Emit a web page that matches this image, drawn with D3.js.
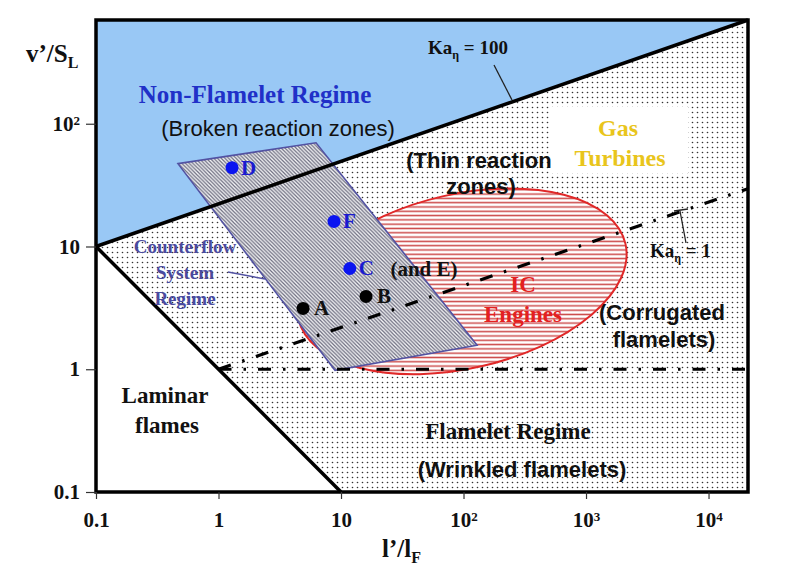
<!DOCTYPE html>
<html>
<head>
<meta charset="utf-8">
<script src="https://cdn.jsdelivr.net/npm/d3@7"></script>
<style>
  html, body { margin: 0; padding: 0; background: #fff; }
  .serif { font-family: "Liberation Serif", "Times New Roman", serif; font-weight: bold; }
  .sans { font-family: "Liberation Sans", Arial, sans-serif; }
</style>
</head>
<body>
<div class="regime-chart"></div>
<script>
// Axis ranges and ticks (log-log)
const xDomain = [0.1, 2.1e4];
const yDomain = [0.1, 700];
const xTicks = [0.1, 1, 10, 100, 1000, 10000];
const xTickLabels = ['0.1', '1', '10', '10^2', '10^3', '10^4'];
const yTicks = [0.1, 1, 10, 100];
const yTickLabels = ['0.1', '1', '10', '10^2'];

// Regime boundaries [l'/lF, v'/SL]
const reOneLine = [[0.1, 10], [10, 0.1]];
const ka100Line = [[0.1, 10], [2.1e4, 700]];
const ka1Line = [[1, 1], [2.1e4, 29.6]];
const unityLine = [[1, 1], [2.1e4, 1]];

// Counterflow system regime (parallelogram corners)
const counterflowCorners = [[0.467, 47.3], [6.25, 70], [129, 1.57], [8.93, 0.98]];

// IC engines ellipse: centre, semi-axes in decades, tilt in degrees
const icCenter = [97, 5.2];
const icSemiAxes = [1.37, 0.71];
const icTilt = 12.9;

// Experimental points
const pointNames = ['D', 'F', 'C', 'B', 'A'];
const pointX = [1.29, 8.77, 11.8, 16.0, 4.9];
const pointY = [43.9, 16.0, 6.62, 3.92, 3.13];
const pointGroup = ['blue', 'blue', 'blue', 'black', 'black'];

const W = 800, H = 583;
const plot = { left: 96, right: 748, top: 20, bottom: 492 };

const svg = d3.select('.regime-chart').append('svg')
  .attr('width', W).attr('height', H);

const x = d3.scaleLog().domain(xDomain).range([plot.left, plot.right]);
const y = d3.scaleLog().domain(yDomain).range([plot.bottom, plot.top]);
const line = d3.line().x(d => x(d[0])).y(d => y(d[1]));

// patterns
const defs = svg.append('defs');
const dots = defs.append('pattern').attr('id', 'dots')
  .attr('width', 5).attr('height', 5).attr('patternUnits', 'userSpaceOnUse');
dots.append('rect').attr('width', 5).attr('height', 5).attr('fill', '#fff');
dots.append('circle').attr('cx', 2.5).attr('cy', 2.5).attr('r', 0.8).attr('fill', '#333');

// the ellipse is rotated, so turn its hatch back to horizontal
const redHatch = defs.append('pattern').attr('id', 'redHatch')
  .attr('width', 8).attr('height', 4.3).attr('patternUnits', 'userSpaceOnUse')
  .attr('patternTransform', `rotate(${icTilt})`);
redHatch.append('rect').attr('width', 8).attr('height', 4.3).attr('fill', '#fff');
redHatch.append('rect').attr('y', 1.4).attr('width', 8).attr('height', 1.5).attr('fill', '#cc4a4a');

// diagonal "\" hatch for the counterflow regime
const hs = 3.7;
const grayHatch = defs.append('pattern').attr('id', 'grayHatch')
  .attr('width', hs).attr('height', hs).attr('patternUnits', 'userSpaceOnUse');
grayHatch.append('rect').attr('width', hs).attr('height', hs).attr('fill', '#f6f6f8');
grayHatch.append('path')
  .attr('d', `M${-hs / 2},${-hs / 2}L${hs * 1.5},${hs * 1.5}M${-hs / 2},${hs / 2}L${hs / 2},${hs * 1.5}M${hs / 2},${-hs / 2}L${hs * 1.5},${hs / 2}`)
  .attr('stroke', '#6e6e80').attr('stroke-width', 1.25);

const g = svg.append('g');

// Non-flamelet (blue) region above Ka=100
g.append('path')
  .attr('d', line([[xDomain[0], yDomain[1]], ka100Line[1], ka100Line[0]]) + 'Z')
  .attr('fill', '#99c8f5');

// Flamelet (stippled) region
g.append('path')
  .attr('d', line([reOneLine[0], ka100Line[1], [xDomain[1], yDomain[0]], reOneLine[1]]) + 'Z')
  .attr('fill', 'url(#dots)');

// IC engines ellipse
const ecx = x(icCenter[0]), ecy = y(icCenter[1]);
const erx = x(icCenter[0] * Math.pow(10, icSemiAxes[0])) - ecx;
const ery = ecy - y(icCenter[1] * Math.pow(10, icSemiAxes[1]));
g.append('ellipse')
  .attr('cx', ecx).attr('cy', ecy).attr('rx', erx).attr('ry', ery)
  .attr('transform', `rotate(${-icTilt},${ecx},${ecy})`)
  .attr('fill', 'url(#redHatch)').attr('stroke', '#e02828').attr('stroke-width', 2);

// Counterflow parallelogram
g.append('path')
  .attr('d', line(counterflowCorners) + 'Z')
  .attr('fill', 'url(#grayHatch)').attr('stroke', '#5252a2').attr('stroke-width', 1.6);

// Boundary lines
g.append('path').attr('d', line(reOneLine)).attr('stroke', '#000').attr('stroke-width', 3.5).attr('fill', 'none');
g.append('path').attr('d', line(ka100Line)).attr('stroke', '#000').attr('stroke-width', 3.5).attr('fill', 'none');
[ka1Line, unityLine].forEach(l => {
  g.append('path').attr('d', line(l))
    .attr('stroke', '#000').attr('stroke-width', 3.2).attr('fill', 'none')
    .attr('stroke-dasharray', '13,12,2.5,12');
});

// Gas turbines white box
g.append('rect').attr('x', 550).attr('y', 107).attr('width', 138).attr('height', 66).attr('fill', '#fff');

// leader lines
g.append('line').attr('x1', 494).attr('y1', 65).attr('x2', 512).attr('y2', 100)
  .attr('stroke', '#222').attr('stroke-width', 1.3);
g.append('line').attr('x1', 680).attr('y1', 211).attr('x2', 686).attr('y2', 243)
  .attr('stroke', '#222').attr('stroke-width', 1.3);
g.append('line').attr('x1', 674).attr('y1', 211).attr('x2', 688).attr('y2', 209)
  .attr('stroke', '#222').attr('stroke-width', 1.5);
g.append('line').attr('x1', 228).attr('y1', 272).attr('x2', 265).attr('y2', 279)
  .attr('stroke', '#5252a2').attr('stroke-width', 1.5);

// points
const pts = g.append('g').selectAll('g').data(pointNames).enter().append('g');
pts.append('circle')
  .attr('cx', (d, i) => x(pointX[i])).attr('cy', (d, i) => y(pointY[i]))
  .attr('r', 6.5)
  .attr('fill', (d, i) => pointGroup[i] === 'blue' ? '#0a14f0' : '#000');
pts.append('text').attr('class', 'serif')
  .attr('x', (d, i) => x(pointX[i]) + (pointGroup[i] === 'blue' ? 9 : 11))
  .attr('y', (d, i) => y(pointY[i]) + 7)
  .attr('font-size', 21)
  .attr('fill', (d, i) => pointGroup[i] === 'blue' ? '#1a1ad0' : '#111')
  .text(d => d);

// annotation text helper
function label(txt, px, py, opts) {
  const t = g.append('text').attr('class', opts.cls || 'serif')
    .attr('x', px).attr('y', py)
    .attr('font-size', opts.size || 22)
    .attr('fill', opts.fill || '#111')
    .attr('text-anchor', opts.anchor || 'middle');
  if (opts.weight) t.style('font-weight', opts.weight);
  t.text(txt);
  return t;
}

label('Non-Flamelet Regime', 255, 103, { size: 25, fill: '#2030c8' });
label('(Broken reaction zones)', 278, 136, { cls: 'sans', size: 22 });
label('(Thin reaction', 479, 168, { cls: 'sans', size: 22, weight: 'bold' });
label('zones)', 481, 194, { cls: 'sans', size: 22, weight: 'bold' });
label('Gas', 618, 136, { size: 24, fill: '#e9c51c' });
label('Turbines', 620, 166, { size: 24, fill: '#e9c51c' });
label('IC', 523, 292, { size: 23, fill: '#e42020' });
label('Engines', 523, 322, { size: 23, fill: '#e42020' });
label('(and E)', 424, 276, { size: 21, fill: '#111' });
label('(Corrugated', 662, 320, { cls: 'sans', size: 22, weight: 'bold' });
label('flamelets)', 664, 347, { cls: 'sans', size: 22, weight: 'bold' });
label('Flamelet Regime', 508, 439, { size: 23 });
label('(Wrinkled flamelets)', 522, 477, { cls: 'sans', size: 22, weight: 'bold' });
label('Laminar', 165, 403, { size: 23 });
label('flames', 167, 433, { size: 23 });
label('Counterflow', 185, 253, { size: 19, fill: '#4a4a9e' });
label('System', 185, 279, { size: 19, fill: '#4a4a9e' });
label('Regime', 185, 305, { size: 19, fill: '#4a4a9e' });

function kaLabel(value, px, py) {
  const t = g.append('text').attr('class', 'serif').attr('x', px).attr('y', py)
    .attr('font-size', 19).attr('fill', '#111');
  t.append('tspan').text('Ka');
  t.append('tspan').attr('dy', 5).attr('font-size', 12).text('η');
  t.append('tspan').attr('dy', -5).text(' = ' + value);
}
kaLabel('100', 428, 54);
kaLabel('1', 650, 257);

// frame
svg.append('rect')
  .attr('x', plot.left).attr('y', plot.top)
  .attr('width', plot.right - plot.left).attr('height', plot.bottom - plot.top)
  .attr('fill', 'none').attr('stroke', '#000').attr('stroke-width', 3.5);

// axes
function fmtTicks(sel, labels) {
  sel.selectAll('text').each(function (d, i) {
    const parts = labels[i].split('^');
    const t = d3.select(this).text(parts[0])
      .attr('class', 'serif').attr('font-size', 21).attr('fill', '#111');
    if (parts[1]) t.append('tspan').attr('dy', '-0.45em').attr('font-size', 13).text(parts[1]);
  });
  sel.select('.domain').remove();
  sel.selectAll('line').attr('stroke', '#333').attr('stroke-width', 1.2);
}

svg.append('g').attr('transform', `translate(0,${plot.bottom})`)
  .call(d3.axisBottom(x).tickValues(xTicks).tickSize(7).tickPadding(13))
  .call(sel => fmtTicks(sel, xTickLabels));

svg.append('g').attr('transform', `translate(${plot.left},0)`)
  .call(d3.axisLeft(y).tickValues(yTicks).tickSize(10).tickPadding(6))
  .call(sel => fmtTicks(sel, yTickLabels));

// axis titles
const yt = svg.append('text').attr('class', 'serif').attr('x', 26).attr('y', 62)
  .attr('font-size', 25).attr('fill', '#111');
yt.append('tspan').text('v’/S');
yt.append('tspan').attr('dy', 6).attr('font-size', 16).text('L');

const xt = svg.append('text').attr('class', 'serif').attr('x', 382).attr('y', 557)
  .attr('font-size', 25).attr('fill', '#111');
xt.append('tspan').text('l’/l');
xt.append('tspan').attr('dy', 6).attr('font-size', 16).text('F');
</script>
</body>
</html>
